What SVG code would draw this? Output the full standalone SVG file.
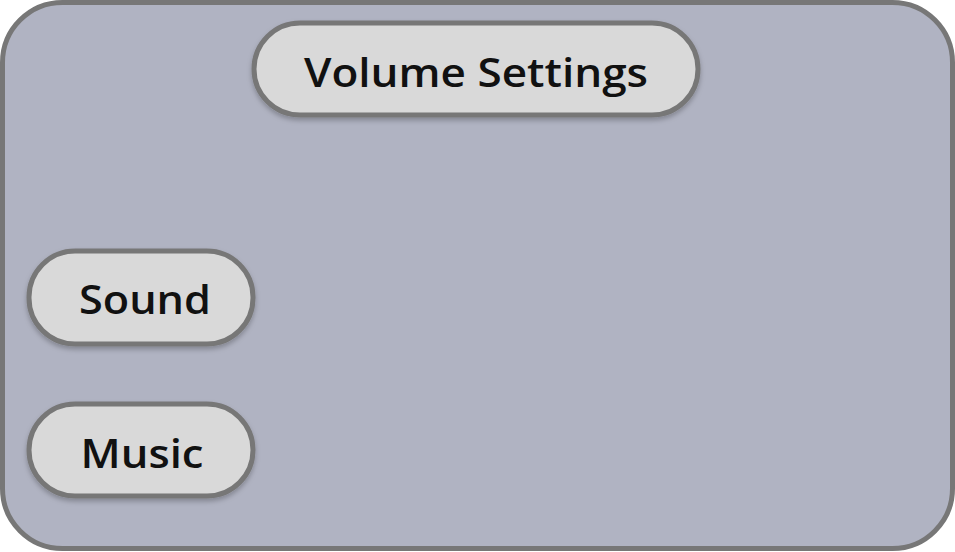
<svg xmlns="http://www.w3.org/2000/svg" width="955" height="552" viewBox="0 0 955 552">
<defs>
<filter id="sh" x="-10%" y="-20%" width="120%" height="150%">
<feDropShadow dx="0" dy="3" stdDeviation="2.5" flood-color="#000" flood-opacity="0.25"/>
</filter>
</defs>
<style>
.frame{fill:#b0b3c2;stroke:#777;stroke-width:5}
.pill{fill:#d9d9d9;stroke:#777;stroke-width:5;filter:url(#sh)}
.lbl{font-family:"Open Sans","Liberation Sans",sans-serif;font-weight:600;fill:#111;text-anchor:middle}
</style>
<g id="frame">
<rect class="frame" x="2.5" y="2.5" width="950" height="546" rx="60" ry="60"/>
</g>
<g id="title">
<rect class="pill" x="254" y="23" width="444" height="92" rx="46" ry="46"/>
<text class="lbl" x="476" y="87" font-size="40" textLength="344" lengthAdjust="spacingAndGlyphs">Volume Settings</text>
</g>
<g id="sound">
<rect class="pill" x="29" y="251" width="224" height="93" rx="46" ry="46"/>
<text class="lbl" x="145" y="314" font-size="40" textLength="132" lengthAdjust="spacingAndGlyphs">Sound</text>
</g>
<g id="music">
<rect class="pill" x="29" y="404" width="224" height="92" rx="46" ry="46"/>
<text class="lbl" x="142" y="468" font-size="40" textLength="123" lengthAdjust="spacingAndGlyphs">Music</text>
</g>
<g id="connectors"></g>
</svg>
